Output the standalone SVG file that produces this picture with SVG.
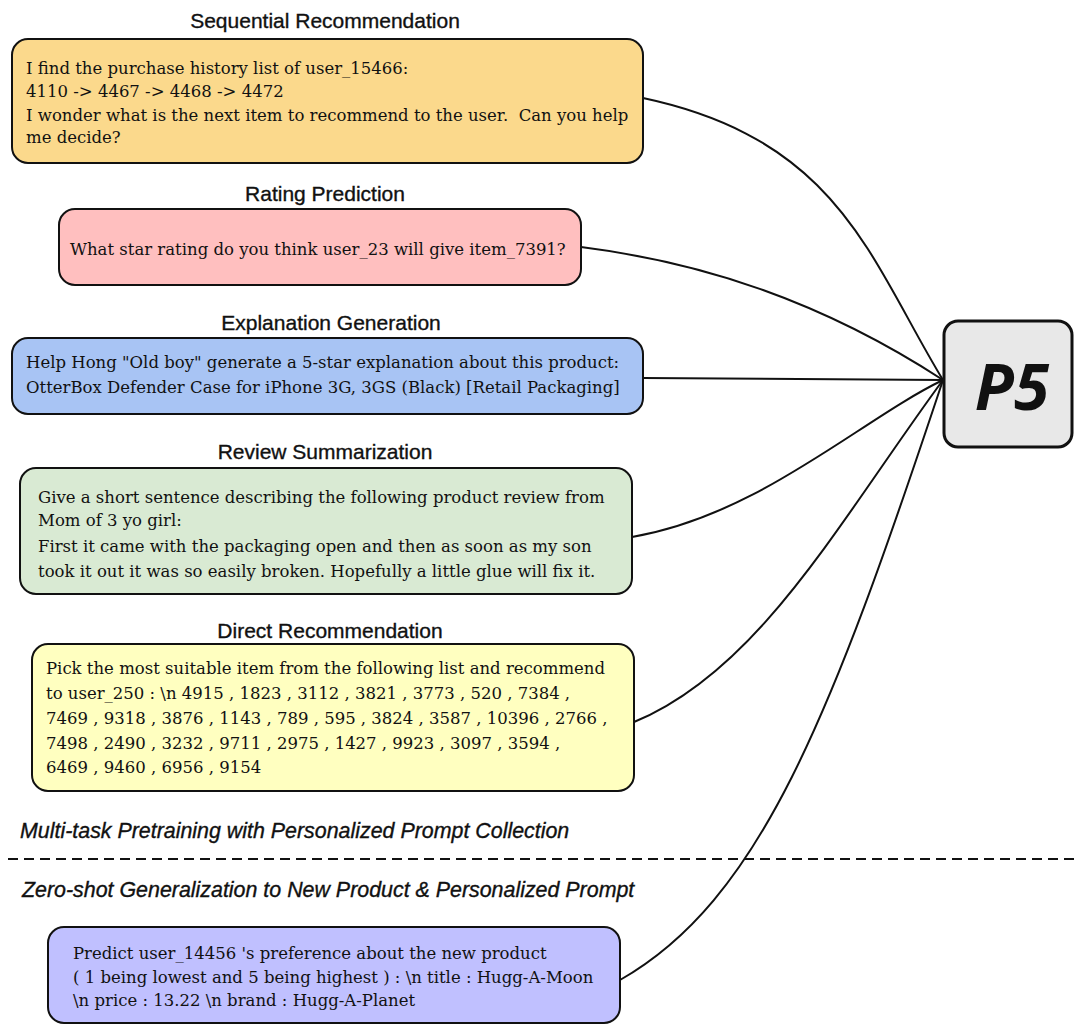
<svg xmlns="http://www.w3.org/2000/svg" width="1074" height="1025" viewBox="0 0 1074 1025">
  <style>
    .title { font-family: "Liberation Sans", Arial, sans-serif; font-size: 21px; fill: #111; stroke: #111; stroke-width: 0.35; text-anchor: middle; }
    .body { font-family: "DejaVu Serif", "Liberation Serif", serif; font-size: 16.5px; fill: #111; white-space: pre; }
    .phase { font-family: "Liberation Sans", Arial, sans-serif; font-size: 21.4px; font-style: italic; fill: #111; stroke: #111; stroke-width: 0.35; }
    .box { stroke: #111; stroke-width: 2; }
    .wire { fill: none; stroke: #111; stroke-width: 2; }
  </style>
  <rect width="1074" height="1025" fill="#ffffff"/>

  <!-- connectors from every prompt to the model -->
  <g id="connectors">
    <path class="wire" d="M643,98 C840,140 870,260 943,380"/>
    <path class="wire" d="M581,247 C700,262 820,300 943,380"/>
    <path class="wire" d="M643,378 L943,380"/>
    <path class="wire" d="M632,537 C760,515 860,420 943,380"/>
    <path class="wire" d="M634,722 C760,670 840,520 943,380"/>
    <path class="wire" d="M620,980 C760,900 830,720 943,380"/>
  </g>

  <g id="sequential">
    <text class="title" x="325" y="28">Sequential Recommendation</text>
    <rect class="box" x="12" y="39" width="631" height="124" rx="16" fill="#fbd98c"/>
    <text class="body" x="26" y="74">I find the purchase history list of user_15466:</text>
    <text class="body" x="26" y="97">4110 -&gt; 4467 -&gt; 4468 -&gt; 4472</text>
    <text class="body" x="26" y="121" xml:space="preserve">I wonder what is the next item to recommend to the user.  Can you help</text>
    <text class="body" x="26" y="143">me decide?</text>
  </g>

  <g id="rating">
    <text class="title" x="325" y="201">Rating Prediction</text>
    <rect class="box" x="59" y="209" width="522" height="76" rx="16" fill="#ffbfbf"/>
    <text class="body" x="70" y="255">What star rating do you think user_23 will give item_7391?</text>
  </g>

  <g id="explanation">
    <text class="title" x="331" y="330">Explanation Generation</text>
    <rect class="box" x="12" y="338" width="631" height="76" rx="16" fill="#a8c4f4"/>
    <text class="body" x="26" y="368">Help Hong "Old boy" generate a 5-star explanation about this product:</text>
    <text class="body" x="26" y="393">OtterBox Defender Case for iPhone 3G, 3GS (Black) [Retail Packaging]</text>
  </g>

  <g id="review">
    <text class="title" x="325" y="459">Review Summarization</text>
    <rect class="box" x="20" y="468" width="612" height="126" rx="16" fill="#d9ead3"/>
    <text class="body" x="38" y="503">Give a short sentence describing the following product review from</text>
    <text class="body" x="38" y="526">Mom of 3 yo girl:</text>
    <text class="body" x="38" y="552">First it came with the packaging open and then as soon as my son</text>
    <text class="body" x="38" y="577">took it out it was so easily broken. Hopefully a little glue will fix it.</text>
  </g>

  <g id="direct">
    <text class="title" x="330" y="638">Direct Recommendation</text>
    <rect class="box" x="32" y="644" width="602" height="147" rx="16" fill="#ffffc0"/>
    <text class="body" x="46" y="674">Pick the most suitable item from the following list and recommend</text>
    <text class="body" x="46" y="699">to user_250 : \n 4915 , 1823 , 3112 , 3821 , 3773 , 520 , 7384 ,</text>
    <text class="body" x="46" y="724">7469 , 9318 , 3876 , 1143 , 789 , 595 , 3824 , 3587 , 10396 , 2766 ,</text>
    <text class="body" x="46" y="749">7498 , 2490 , 3232 , 9711 , 2975 , 1427 , 9923 , 3097 , 3594 ,</text>
    <text class="body" x="46" y="773">6469 , 9460 , 6956 , 9154</text>
  </g>

  <!-- split between pretraining and zero-shot use -->
  <g id="divider">
    <text class="phase" x="20" y="838">Multi-task Pretraining with Personalized Prompt Collection</text>
    <line x1="8" y1="859" x2="1074" y2="859" stroke="#111" stroke-width="2" stroke-dasharray="10 6"/>
    <text class="phase" x="22" y="897">Zero-shot Generalization to New Product &amp; Personalized Prompt</text>
  </g>

  <g id="zeroshot">
    <rect class="box" x="48" y="927" width="572" height="96" rx="16" fill="#c0c0ff"/>
    <text class="body" x="73" y="959">Predict user_14456 's preference about the new product</text>
    <text class="body" x="73" y="983">( 1 being lowest and 5 being highest ) : \n title : Hugg-A-Moon</text>
    <text class="body" x="73" y="1006">\n price : 13.22 \n brand : Hugg-A-Planet</text>
  </g>

  <g id="p5">
    <rect x="944" y="321" width="128" height="126" rx="14" fill="#e8e8e8" stroke="#111" stroke-width="3"/>
    <text x="1012" y="410" font-family="'Open Sans', 'DejaVu Sans', sans-serif" font-size="64" font-weight="bold" font-style="italic" text-anchor="middle" fill="#111">P5</text>
  </g>
</svg>
